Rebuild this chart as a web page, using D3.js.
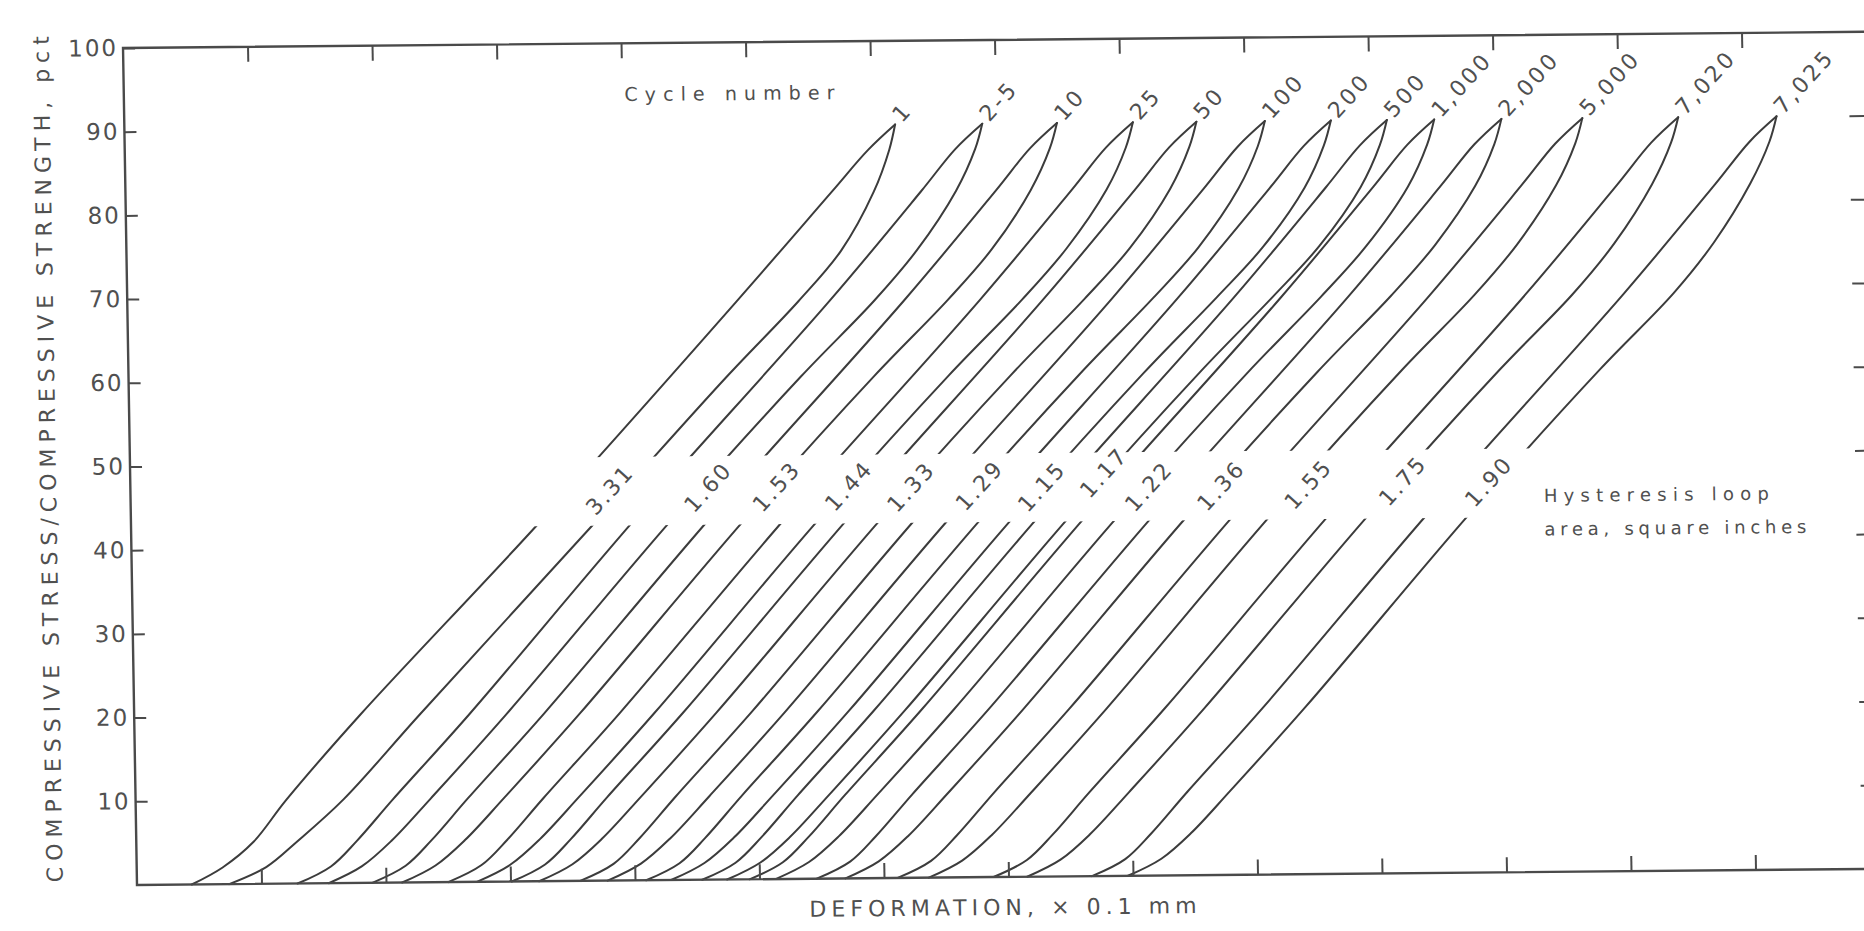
<!DOCTYPE html>
<html>
<head>
<meta charset="utf-8">
<script src="https://cdn.jsdelivr.net/npm/d3@7"></script>
<style>
  html, body { margin: 0; padding: 0; background: #fff; }
  svg { display: block; }
  text { font-family: "DejaVu Sans", sans-serif; fill: #505050; }
</style>
</head>
<body>
<svg id="chart" width="1864" height="931"></svg>
<script>
// Cycle numbers of the plotted loops, left to right
const cycleNumbers = ["1", "2-5", "10", "25", "50", "100", "200", "500", "1,000", "2,000", "5,000", "7,020", "7,025"];
// Hysteresis loop area of each loop, square inches
const loopAreas = ["3.31", "1.60", "1.53", "1.44", "1.33", "1.29", "1.15", "1.17", "1.22", "1.36", "1.55", "1.75", "1.90"];

// Stress levels (pct of compressive strength) sampled along each branch
const loadingStress = [0, 2, 5, 10, 20, 43, 69, 82, 87, 90];
const unloadingStress = [90, 87, 82, 75, 69, 60, 43, 20, 10, 5, 2, 0];

// Deformation (x 0.1 mm) on the loading branch at each loading stress level
const loadingDeformation = [
  [0.44, 0.69, 0.94, 1.21, 1.81, 3.29, 4.89, 5.67, 5.97, 6.19],
  [1.29, 1.56, 1.77, 2.07, 2.69, 4.04, 5.64, 6.39, 6.67, 6.89],
  [1.89, 2.16, 2.37, 2.67, 3.29, 4.64, 6.24, 6.99, 7.27, 7.49],
  [2.50, 2.77, 2.98, 3.28, 3.90, 5.25, 6.85, 7.60, 7.88, 8.10],
  [3.01, 3.28, 3.49, 3.79, 4.41, 5.76, 7.36, 8.11, 8.39, 8.61],
  [3.56, 3.83, 4.04, 4.34, 4.96, 6.31, 7.91, 8.66, 8.94, 9.16],
  [4.09, 4.36, 4.57, 4.87, 5.49, 6.84, 8.44, 9.19, 9.47, 9.69],
  [4.54, 4.81, 5.02, 5.32, 5.94, 7.29, 8.89, 9.64, 9.92, 10.14],
  [4.92, 5.19, 5.40, 5.70, 6.32, 7.67, 9.27, 10.02, 10.30, 10.52],
  [5.46, 5.73, 5.94, 6.24, 6.86, 8.21, 9.81, 10.56, 10.84, 11.06],
  [6.11, 6.38, 6.59, 6.89, 7.51, 8.86, 10.46, 11.21, 11.49, 11.71],
  [6.88, 7.15, 7.36, 7.66, 8.28, 9.63, 11.23, 11.98, 12.26, 12.48],
  [7.67, 7.94, 8.15, 8.45, 9.07, 10.42, 12.02, 12.77, 13.05, 13.27]
];

// Deformation (x 0.1 mm) on the unloading branch at each unloading stress level
const unloadingDeformation = [
  [6.19, 6.14, 6.01, 5.74, 5.39, 4.80, 3.74, 2.29, 1.67, 1.29, 1.04, 0.74],
  [6.89, 6.83, 6.67, 6.35, 6.00, 5.40, 4.34, 2.99, 2.37, 2.05, 1.81, 1.54],
  [7.49, 7.43, 7.27, 6.95, 6.59, 5.99, 4.93, 3.58, 2.96, 2.64, 2.40, 2.13],
  [8.10, 8.04, 7.88, 7.55, 7.19, 6.59, 5.53, 4.18, 3.56, 3.24, 3.00, 2.73],
  [8.61, 8.55, 8.39, 8.06, 7.69, 7.09, 6.03, 4.68, 4.06, 3.74, 3.50, 3.23],
  [9.16, 9.10, 8.94, 8.61, 8.24, 7.64, 6.58, 5.23, 4.61, 4.29, 4.05, 3.78],
  [9.69, 9.63, 9.47, 9.13, 8.75, 8.15, 7.09, 5.74, 5.12, 4.80, 4.56, 4.29],
  [10.14, 10.08, 9.92, 9.58, 9.20, 8.60, 7.54, 6.19, 5.57, 5.25, 5.01, 4.74],
  [10.52, 10.46, 10.30, 9.96, 9.59, 8.99, 7.93, 6.58, 5.96, 5.64, 5.40, 5.13],
  [11.06, 11.00, 10.84, 10.51, 10.15, 9.55, 8.49, 7.14, 6.52, 6.20, 5.96, 5.69],
  [11.71, 11.65, 11.49, 11.17, 10.82, 10.22, 9.16, 7.81, 7.19, 6.87, 6.63, 6.36],
  [12.48, 12.42, 12.26, 11.95, 11.61, 11.01, 9.95, 8.60, 7.98, 7.66, 7.42, 7.15],
  [13.27, 13.21, 13.05, 12.75, 12.42, 11.82, 10.76, 9.41, 8.79, 8.47, 8.23, 7.96]
];

const xTicks = [1, 2, 3, 4, 5, 6, 7, 8, 9, 10, 11, 12, 13];
const yTicks = [10, 20, 30, 40, 50, 60, 70, 80, 90, 100];
const yTicksRight = [10, 20, 30, 40, 50, 60, 70, 80, 90];

// Where each loop-area label is centred, [deformation, stress]
const areaLabelAt = [
  [3.85, 46.7], [4.64, 46.9], [5.19, 46.9], [5.77, 46.9], [6.27, 46.7], [6.82, 46.8], [7.32, 46.6],
  [7.82, 48.2], [8.18, 46.5], [8.76, 46.5], [9.46, 46.6], [10.22, 46.9], [10.91, 46.7]
];

// ---- layout ----
const frameW = 1743, frameH = 837;
const x = d3.scaleLinear().domain([0, 14]).range([0, frameW]);
const y = d3.scaleLinear().domain([0, 100]).range([0, -frameH]);

const svg = d3.select("#chart");
svg.append("rect").attr("width", 1864).attr("height", 931).attr("fill", "#fff");

// The sheet sits slightly askew: origin at the lower-left corner of the frame
const g = svg.append("g").attr("transform", "matrix(1,-0.0093,0.0167,1,137,885)");

const loops = cycleNumbers.map((c, i) => ({
  cycle: c,
  area: loopAreas[i],
  loading: loadingStress.map((s, k) => [loadingDeformation[i][k], s]),
  unloading: unloadingStress.map((s, k) => [unloadingDeformation[i][k], s])
}));

const line = d3.line()
  .x(d => x(d[0]))
  .y(d => y(d[1]))
  .curve(d3.curveCatmullRom.alpha(0.5));

// loading and unloading branches
const curves = g.append("g")
  .attr("fill", "none")
  .attr("stroke", "#3c3c3c")
  .attr("stroke-width", 2)
  .attr("stroke-linejoin", "round")
  .attr("stroke-linecap", "round");

loops.forEach(l => {
  curves.append("path").attr("d", line(l.loading));
  curves.append("path").attr("d", line(l.unloading));
});

// clear strip that carries the loop-area figures
g.append("rect")
  .attr("x", x(2.9))
  .attr("y", y(50.6))
  .attr("width", x(11.8) - x(2.9))
  .attr("height", y(42.4) - y(50.6))
  .attr("fill", "#fff");

// frame
g.append("rect")
  .attr("x", 0).attr("y", -frameH)
  .attr("width", frameW).attr("height", frameH)
  .attr("fill", "none")
  .attr("stroke", "#4a4a4a")
  .attr("stroke-width", 2.4);

const styleAxis = a => {
  a.select(".domain").remove();
  a.selectAll("line").attr("stroke", "#4a4a4a").attr("stroke-width", 2);
};

// inward ticks on all four sides
g.append("g")
  .call(d3.axisBottom(x).tickValues(xTicks).tickSizeInner(-15).tickSizeOuter(0).tickFormat(""))
  .call(styleAxis);

g.append("g")
  .attr("transform", `translate(0,${y(100)})`)
  .call(d3.axisTop(x).tickValues(xTicks).tickSizeInner(-15).tickSizeOuter(0).tickFormat(""))
  .call(styleAxis);

g.append("g")
  .attr("transform", `translate(${x(14)},0)`)
  .call(d3.axisRight(y).tickValues(yTicksRight).tickSizeInner(-18).tickSizeOuter(0).tickFormat(""))
  .call(styleAxis);

const left = g.append("g")
  .call(d3.axisLeft(y).tickValues(yTicks).tickSizeInner(-12).tickSizeOuter(0).tickPadding(5).tickFormat(d => d))
  .call(styleAxis);
left.selectAll("text")
  .attr("fill", "#505050")
  .style("font-size", "23px")
  .style("letter-spacing", "2px");

// cycle numbers at the loop tips
g.append("g").selectAll("text")
  .data(loops)
  .join("text")
  .attr("transform", d => `translate(${x(d.loading[d.loading.length - 1][0]) + 7},${y(d.loading[d.loading.length - 1][1]) - 1}) rotate(-47)`)
  .style("font-size", "22px")
  .style("letter-spacing", "3px")
  .text(d => d.cycle);

// loop areas across the clear strip
g.append("g").selectAll("text")
  .data(loops)
  .join("text")
  .attr("transform", (d, i) => `translate(${x(areaLabelAt[i][0])},${y(areaLabelAt[i][1])}) rotate(-47)`)
  .attr("text-anchor", "middle")
  .attr("dy", "0.35em")
  .style("font-size", "22px")
  .style("letter-spacing", "2.5px")
  .text(d => d.area);

// notes
g.append("text")
  .attr("x", x(4.02)).attr("y", y(93.1))
  .attr("textLength", 210).attr("lengthAdjust", "spacing")
  .style("font-size", "19px")
  .text("Cycle number");

g.append("text")
  .attr("x", x(11.35)).attr("y", y(44.2))
  .attr("textLength", 225).attr("lengthAdjust", "spacing")
  .style("font-size", "18px")
  .text("Hysteresis loop");

g.append("text")
  .attr("x", x(11.35)).attr("y", y(40.2))
  .attr("textLength", 262).attr("lengthAdjust", "spacing")
  .style("font-size", "18px")
  .text("area, square inches");

// axis titles
g.append("text")
  .attr("transform", `translate(-82,${-frameH / 2 - 8}) rotate(-90)`)
  .attr("text-anchor", "middle")
  .attr("dy", "0.35em")
  .attr("textLength", 846).attr("lengthAdjust", "spacing")
  .style("font-size", "22px")
  .text("COMPRESSIVE STRESS/COMPRESSIVE STRENGTH, pct");

g.append("text")
  .attr("x", frameW / 2 - 6).attr("y", 38)
  .attr("text-anchor", "middle")
  .attr("textLength", 387).attr("lengthAdjust", "spacing")
  .style("font-size", "22px")
  .text("DEFORMATION, × 0.1 mm");
</script>
</body>
</html>
